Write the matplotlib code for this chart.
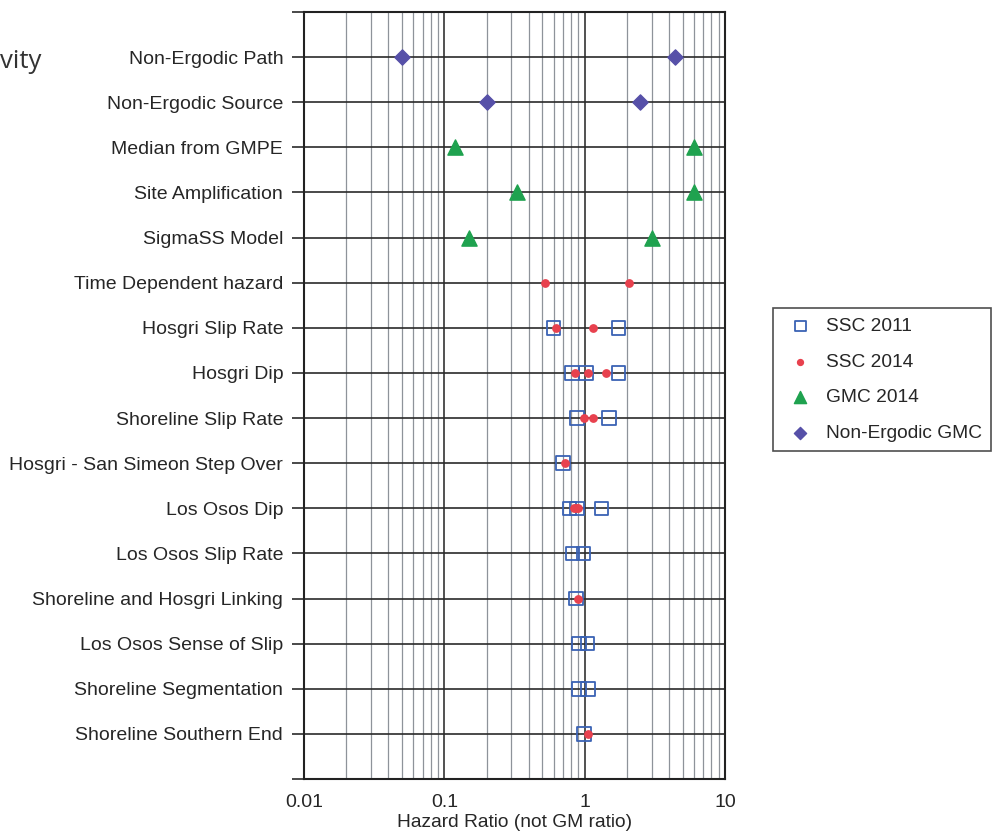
import matplotlib
matplotlib.use("Agg")
import matplotlib.pyplot as plt
import numpy as np
from matplotlib.ticker import LogLocator, NullFormatter, FixedLocator, FixedFormatter

plt.rcParams['font.family'] = ['Liberation Sans', 'DejaVu Sans']

categories = [
    "Non-Ergodic Path", "Non-Ergodic Source", "Median from GMPE", "Site Amplification",
    "SigmaSS Model", "Time Dependent hazard", "Hosgri Slip Rate", "Hosgri Dip",
    "Shoreline Slip Rate", "Hosgri - San Simeon Step Over", "Los Osos Dip",
    "Los Osos Slip Rate", "Shoreline and Hosgri Linking", "Los Osos Sense of Slip",
    "Shoreline Segmentation", "Shoreline Southern End",
]

# values per category (lists of hazard ratios)
ssc2011 = {
    "Hosgri Slip Rate": [0.60, 1.74],
    "Hosgri Dip": [0.81, 1.02, 1.74],
    "Shoreline Slip Rate": [0.88, 1.49],
    "Hosgri - San Simeon Step Over": [0.70],
    "Los Osos Dip": [0.78, 0.88, 1.32],
    "Los Osos Slip Rate": [0.82, 0.98],
    "Shoreline and Hosgri Linking": [0.87],
    "Los Osos Sense of Slip": [0.91, 1.05],
    "Shoreline Segmentation": [0.91, 1.06],
    "Shoreline Southern End": [0.99],
}
ssc2014 = {
    "Time Dependent hazard": [0.52, 2.07],
    "Hosgri Slip Rate": [0.62, 1.14],
    "Hosgri Dip": [0.85, 1.06, 1.42],
    "Shoreline Slip Rate": [0.99, 1.14],
    "Hosgri - San Simeon Step Over": [0.72],
    "Los Osos Dip": [0.84, 0.87, 0.90],
    "Shoreline and Hosgri Linking": [0.90],
    "Shoreline Southern End": [1.05],
}
gmc2014 = {
    "Median from GMPE": [0.12, 6.0],
    "Site Amplification": [0.33, 6.0],
    "SigmaSS Model": [0.15, 3.0],
}
nonergodic = {
    "Non-Ergodic Path": [0.050, 4.4],
    "Non-Ergodic Source": [0.20, 2.48],
}

xticks = [0.01, 0.1, 1, 10]
xtick_labels = ["0.01", "0.1", "1", "10"]

n = len(categories)
ypos = {c: n - i for i, c in enumerate(categories)}

def pts(d):
    xs, ys = [], []
    for k, vals in d.items():
        for v in vals:
            xs.append(v)
            ys.append(ypos[k])
    return xs, ys

TXT = '#262626'
fig = plt.figure(figsize=(9.92, 8.34), dpi=100)
ax = fig.add_axes([304/992, 1-779/834, (725-304)/992, (779-12)/834])
ax.set_xscale('log')
ax.set_xlim(0.01, 10)
ax.set_ylim(0, n + 1)

# grid
ax.xaxis.set_major_locator(FixedLocator(xticks))
ax.xaxis.set_major_formatter(FixedFormatter(xtick_labels))
ax.xaxis.set_minor_locator(LogLocator(base=10, subs=np.arange(2, 10)))
ax.xaxis.set_minor_formatter(NullFormatter())
ax.set_yticks(np.arange(0, n + 2))
ax.set_yticklabels([""] + [categories[n - i] for i in range(1, n + 1)] + [""])
ax.grid(True, which='major', axis='y', color='#2a2a2a', lw=1.2)
ax.grid(True, which='major', axis='x', color='#333333', lw=1.2)
ax.grid(True, which='minor', axis='x', color='#8e939a', lw=0.9)
ax.set_axisbelow(True)
ax.tick_params(axis='y', length=9, width=1.2, color='#2a2a2a', labelsize=14,
               pad=6, labelcolor=TXT)
ax.tick_params(axis='x', which='both', length=0, labelsize=14, pad=11, labelcolor=TXT)
for s in ax.spines.values():
    s.set_color('#222222')
    s.set_linewidth(1.5)

x, y = pts(ssc2011)
ax.scatter(x, y, marker='s', s=95, facecolors='none', edgecolors='#3a62b4', linewidths=1.3,
           label='SSC 2011', zorder=3)
x, y = pts(ssc2014)
ax.scatter(x, y, marker='o', s=28, color='#e8414e', label='SSC 2014', zorder=4)
x, y = pts(gmc2014)
ax.scatter(x, y, marker='^', s=120, color='#1fa24f', label='GMC 2014', zorder=4)
x, y = pts(nonergodic)
ax.scatter(x, y, marker='D', s=60, color='#5650a8', label='Non-Ergodic GMC', zorder=4)

ax.set_xlabel("Hazard Ratio (not GM ratio)", fontsize=13.8, labelpad=2, color=TXT)

h, l = ax.get_legend_handles_labels()
leg = fig.legend(h, l, loc='upper left', bbox_to_anchor=(773/992, 1-308/834),
                 borderaxespad=0, frameon=True, fancybox=False, edgecolor='#222222',
                 fontsize=13.8, handlelength=1.84, handletextpad=0.4, borderpad=0.5,
                 labelspacing=0.95, markerscale=0.8)
leg.get_frame().set_linewidth(1.2)
for t in leg.get_texts():
    t.set_color(TXT)

fig.text(0.0, 1-62/834, "vity", fontsize=18.5, family=['Open Sans', 'DejaVu Sans'],
         color='#333333', va='center', ha='left')

fig.savefig("out.png", dpi=100, facecolor='white')
